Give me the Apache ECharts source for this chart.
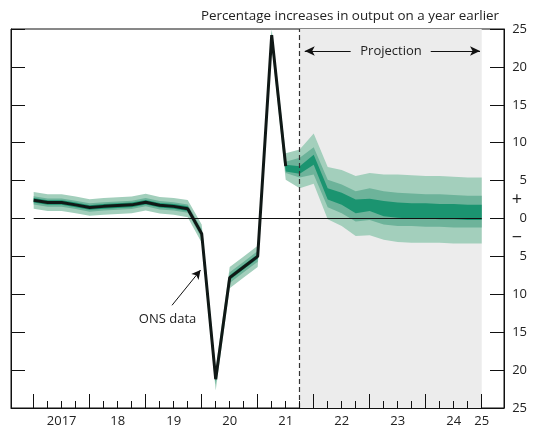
<!DOCTYPE html>
<html><head><meta charset="utf-8">
<script src="https://cdn.jsdelivr.net/npm/echarts@6/dist/echarts.min.js"></script>
<style>html,body{margin:0;padding:0;background:#fff}#c{width:534px;height:430px}</style>
</head><body><div id="c"></div>
<script>
// ---- data ----
const quarters = ['2017 Q1','2017 Q2','2017 Q3','2017 Q4','2018 Q1','2018 Q2','2018 Q3','2018 Q4',
  '2019 Q1','2019 Q2','2019 Q3','2019 Q4','2020 Q1','2020 Q2','2020 Q3','2020 Q4',
  '2021 Q1','2021 Q2','2021 Q3','2021 Q4','2022 Q1','2022 Q2','2022 Q3','2022 Q4',
  '2023 Q1','2023 Q2','2023 Q3','2023 Q4','2024 Q1','2024 Q2','2024 Q3','2024 Q4','2025 Q1'];
// ONS data (central line), 2017 Q1 - 2021 Q3
const onsData = [2.4,2.1,2.1,1.8,1.45,1.6,1.7,1.8,2.15,1.75,1.6,1.3,-2.0,-21.2,-7.8,-6.4,-5.0,24.2,6.9];
// fan bands (lower / upper bounds)
const darkLo  = [2.1,1.8,1.8,1.5,1.15,1.3,1.4,1.5,1.85,1.45,1.3,1.0,-2.3,-21.5,-8.1,-6.7,-5.3,23.7,
                 6.2,5.9,7.1,2.5,1.8,0.7,1.0,0.3,0.1,0.0,0.0,-0.1,-0.1,-0.2,-0.2];
const darkHi  = [2.7,2.4,2.4,2.1,1.75,1.9,2.0,2.1,2.45,2.05,1.9,1.6,-1.7,-20.9,-7.5,-6.1,-4.7,24.3,
                 7.1,6.9,8.4,4.0,3.4,2.5,2.6,2.3,2.1,2.0,2.0,1.9,1.9,1.8,1.8];
const medLo   = [1.85,1.55,1.55,1.25,0.9,1.05,1.15,1.25,1.6,1.2,1.05,0.75,-2.6,-21.9,-8.5,-7.1,-5.7,23.3,
                 6.0,5.4,5.8,1.5,0.7,-0.4,-0.2,-0.8,-1.0,-1.0,-1.1,-1.1,-1.2,-1.2,-1.2];
const medHi   = [2.95,2.65,2.65,2.35,2.0,2.15,2.25,2.35,2.7,2.3,2.15,1.85,-1.4,-20.5,-7.1,-5.7,-4.3,24.7,
                 7.5,8.0,9.4,5.1,4.5,3.6,4.0,3.6,3.4,3.3,3.2,3.2,3.1,3.0,3.0];
const lightLo = [1.3,1.0,1.0,0.7,0.35,0.5,0.6,0.7,1.05,0.65,0.5,0.15,-3.2,-22.7,-9.2,-7.8,-6.4,22.8,
                 5.1,4.0,4.6,-0.1,-1.0,-2.3,-2.2,-2.8,-3.1,-3.2,-3.2,-3.2,-3.3,-3.3,-3.3];
const lightHi = [3.5,3.2,3.2,2.9,2.55,2.7,2.8,2.9,3.25,2.85,2.7,2.45,-0.8,-19.8,-6.4,-5.0,-3.6,25.0,
                 8.6,9.1,11.2,6.8,6.4,5.6,6.0,5.8,5.8,5.7,5.6,5.6,5.5,5.4,5.4];
const yearTicks = [2017,2018,2019,2020,2021,2022,2023,2024,2025];
const xLabelPos = [2017.5,2018.5,2019.5,2020.5,2021.5,2022.5,2023.5,2024.5,2025];
const xLabelText = ['2017','18','19','20','21','22','23','24','25'];
const signPos = [2.5,-2.5];
const signText = ['+','\u2212'];
const projectionStart = 2021.75;
const projectionEnd = 2025;
const titleText = 'Percentage increases in output on a year earlier';

// ---- build ----
const qx = q => { const p = q.split(' Q'); return +p[0] + (+p[1] - 1) / 4; };
const X = quarters.map(qx);
const pairs = arr => arr.map((v, i) => [X[i], v]);
const FONT = 'Open Sans';
const TXT = '#222';
const XMIN = 2016.595, XMAX = 2025.398;

function band(lo, hi, color) {
  return {
    type:'custom', z:2, silent:true,
    data: X.map((x, i) => [x, lo[i], hi[i]]),
    encode:{x:0, y:[1, 2]},
    clip:true,
    renderItem:(params, api) => {
      if (params.dataIndexInside !== 0) return null;
      const n = X.length;
      const pts = [];
      for (let i = 0; i < n; i++) pts.push(api.coord([api.value(0, i), api.value(2, i)]));
      for (let i = n - 1; i >= 0; i--) pts.push(api.coord([api.value(0, i), api.value(1, i)]));
      return {type:'polygon', shape:{points:pts}, style:{fill:color, stroke:null}};
    }
  };
}

const chart = echarts.init(document.getElementById('c'), null, {renderer:'canvas'});
const option = {
  animation:false,
  textStyle:{fontFamily:FONT},
  title:{text:titleText, right:30, top:5,
    textStyle:{fontFamily:FONT, fontSize:13.4, fontWeight:'normal', color:TXT}},
  grid:{left:11, right:30, top:29, bottom:22, show:true, borderColor:'#111', borderWidth:1,
    backgroundColor:'transparent'},
  xAxis:[
    {type:'value', min:XMIN, max:XMAX, position:'bottom', z:10,
     axisLine:{show:true, onZero:false, lineStyle:{color:'#111', width:1}},
     axisTick:{show:true, inside:true, length:14, customValues:yearTicks, lineStyle:{color:'#111', width:1}},
     axisLabel:{show:true, customValues:xLabelPos, margin:7, color:TXT, fontSize:13, fontFamily:FONT,
       formatter:v => { const k = xLabelPos.findIndex(p => Math.abs(p - v) < 1e-6); return k >= 0 ? xLabelText[k] : ''; }},
     splitLine:{show:false}},
    {type:'value', min:XMIN, max:XMAX, position:'bottom', z:10,
     axisLine:{show:false, onZero:false},
     axisTick:{show:true, inside:true, length:7, customValues:X, lineStyle:{color:'#111', width:1}},
     axisLabel:{show:false}, splitLine:{show:false}}
  ],
  yAxis:[
    {type:'value', min:-25, max:25, interval:5, position:'left', z:10,
     axisLine:{show:true, onZero:false, lineStyle:{color:'#111', width:1}},
     axisTick:{show:true, inside:true, length:14, lineStyle:{color:'#111', width:1}},
     axisLabel:{show:false}, splitLine:{show:false}},
    {type:'value', min:-25, max:25, interval:5, position:'right', z:10,
     axisLine:{show:true, onZero:false, lineStyle:{color:'#111', width:1}},
     axisTick:{show:true, inside:true, length:14, lineStyle:{color:'#111', width:1}},
     axisLabel:{show:true, align:'right', margin:23, color:TXT, fontSize:13, fontFamily:FONT,
       formatter:v => String(Math.abs(v))},
     splitLine:{show:false}},
    {type:'value', min:-25, max:25, position:'right', z:10,
     axisLine:{show:false}, axisTick:{show:false}, splitLine:{show:false},
     axisLabel:{show:true, customValues:signPos, align:'right', margin:18, color:TXT, fontSize:18, fontFamily:FONT,
       formatter:v => { const k = signPos.findIndex(p => Math.abs(p - v) < 1e-6); return k >= 0 ? signText[k] : ''; }}}
  ],
  series:[
    // projection shading
    {type:'line', data:[], z:1, silent:true,
     markArea:{silent:true, itemStyle:{color:'#ececec'},
       data:[[{xAxis:projectionStart, yAxis:-25},{xAxis:projectionEnd, yAxis:25}]]}},
    band(lightLo, lightHi, '#a3cfbc'),
    band(medLo, medHi, '#6db39a'),
    band(darkLo, darkHi, '#1b9470'),
    // ONS line
    {type:'line', data:pairs(onsData), symbol:'none', z:3,
     lineStyle:{color:'#101816', width:3}, silent:true,
     markLine:{silent:true, symbol:['none','arrow'], symbolSize:[7,9],
       lineStyle:{color:'#111', width:1, type:'solid'}, label:{show:false},
       data:[[{coord:[2019.47,-11.45]},{coord:[2019.98,-6.8]}]]},
     markPoint:{silent:true, symbol:'circle', symbolSize:0,
       label:{show:true, position:'inside', color:TXT, fontSize:13, fontFamily:FONT, formatter:'ONS data'},
       data:[{coord:[2019.39,-13.3]}]}},
    // overlays: zero line, dashed line, projection arrows
    {type:'line', data:[], z:5, silent:true,
     markLine:{silent:true, symbol:'none', label:{show:false},
       data:[
         [{coord:[2017,0], lineStyle:{color:'#111', width:1, type:'solid'}},{coord:[2025,0]}],
         [{coord:[projectionStart,-25], lineStyle:{color:'#333', width:1.2, type:[5,3]}},{coord:[projectionStart,25]}],
         [{coord:[2022.66,22.1], symbol:'none', lineStyle:{color:'#111', width:1, type:'solid'}},
          {coord:[2021.84,22.1], symbol:'arrow', symbolSize:[7,10]}],
         [{coord:[2024.09,22.1], symbol:'none', lineStyle:{color:'#111', width:1, type:'solid'}},
          {coord:[2024.97,22.1], symbol:'arrow', symbolSize:[7,10]}]
       ]},
     markPoint:{silent:true, symbol:'circle', symbolSize:0,
       label:{show:true, position:'inside', color:TXT, fontSize:13, fontFamily:FONT, formatter:'Projection'},
       data:[{coord:[2023.38,22.1]}]}}
  ]
};
chart.setOption(option);
</script></body></html>
